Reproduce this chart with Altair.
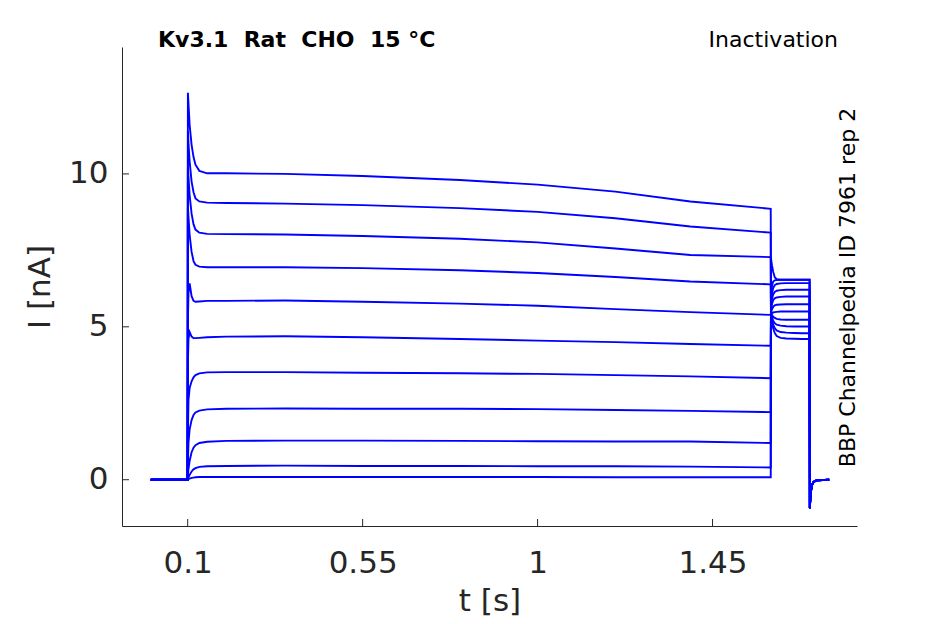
import altair as alt
import pandas as pd

# ---- data ----
TRACES = ["t01", "t02", "t03", "t04", "t05", "t06", "t07", "t08", "t09", "t10", "t11"]

# prepulse (holding + step at 0.1 s up to 1.6 s)
T_PRE = [0.005, 0.0997, 0.1005, 0.102, 0.105, 0.11, 0.115, 0.12, 0.13, 0.15,
         0.2, 0.35, 0.55, 0.8, 1.0, 1.2, 1.393, 1.5997]
PRE_01 = [0, 0, 12.65, 12.3, 11.6, 10.95, 10.55, 10.3, 10.1, 10.02, 10.02, 10.0, 9.93, 9.8, 9.65, 9.42, 9.1, 8.86]
PRE_02 = [0, 0, 11.4, 11.0, 10.4, 9.75, 9.4, 9.2, 9.1, 9.06, 9.05, 9.03, 8.98, 8.88, 8.76, 8.55, 8.28, 8.08]
PRE_03 = [0, 0, 10.2, 9.9, 9.3, 8.7, 8.35, 8.18, 8.08, 8.04, 8.03, 8.02, 7.97, 7.88, 7.76, 7.56, 7.35, 7.28]
PRE_04 = [0, 0, 8.9, 8.6, 8.0, 7.45, 7.15, 7.03, 6.97, 6.95, 6.95, 6.95, 6.92, 6.85, 6.76, 6.63, 6.48, 6.39]
PRE_05 = [0, 0, 5.2, 6.1, 6.42, 6.0, 5.85, 5.82, 5.83, 5.85, 5.85, 5.86, 5.82, 5.76, 5.69, 5.58, 5.48, 5.39]
PRE_06 = [0, 0, 3.8, 4.6, 4.83, 4.68, 4.63, 4.63, 4.64, 4.66, 4.68, 4.69, 4.66, 4.6, 4.55, 4.5, 4.44, 4.38]
PRE_07 = [0, 0, 1.5, 2.6, 3.0, 3.22, 3.35, 3.42, 3.48, 3.51, 3.52, 3.52, 3.5, 3.48, 3.46, 3.42, 3.38, 3.32]
PRE_08 = [0, 0, 0.6, 1.2, 1.65, 1.95, 2.12, 2.2, 2.26, 2.3, 2.32, 2.33, 2.32, 2.32, 2.31, 2.28, 2.25, 2.21]
PRE_09 = [0, 0, 0.15, 0.35, 0.62, 0.9, 1.05, 1.13, 1.2, 1.24, 1.27, 1.28, 1.28, 1.27, 1.26, 1.25, 1.25, 1.2]
PRE_10 = [0, 0, 0.03, 0.08, 0.16, 0.27, 0.34, 0.38, 0.42, 0.44, 0.45, 0.46, 0.45, 0.45, 0.44, 0.44, 0.43, 0.4]
PRE_11 = [0, 0, 0.0, 0.02, 0.04, 0.06, 0.07, 0.08, 0.09, 0.09, 0.09, 0.09, 0.09, 0.09, 0.09, 0.08, 0.08, 0.08]

# test pulse (1.6 s to 1.7 s)
T_TEST = [1.6003, 1.603, 1.606, 1.61, 1.615, 1.625, 1.64, 1.66, 1.68, 1.6997]
TEST_01 = [5.45, 5.15, 4.95, 4.80, 4.70, 4.64, 4.62, 4.61, 4.60, 4.60]
TEST_02 = [5.45, 5.22, 5.07, 4.96, 4.88, 4.83, 4.81, 4.80, 4.79, 4.79]
TEST_03 = [5.45, 5.30, 5.20, 5.12, 5.07, 5.04, 5.02, 5.01, 5.01, 5.01]
TEST_04 = [5.45, 5.38, 5.33, 5.29, 5.26, 5.24, 5.23, 5.23, 5.23, 5.23]
TEST_05 = [5.42, 5.45, 5.47, 5.48, 5.49, 5.50, 5.50, 5.50, 5.50, 5.50]
TEST_06 = [5.45, 5.58, 5.65, 5.70, 5.72, 5.73, 5.74, 5.74, 5.74, 5.74]
TEST_07 = [5.50, 5.75, 5.87, 5.93, 5.96, 5.98, 5.99, 5.99, 5.99, 5.99]
TEST_08 = [5.60, 5.92, 6.06, 6.14, 6.18, 6.20, 6.21, 6.21, 6.21, 6.21]
TEST_09 = [5.70, 6.10, 6.27, 6.36, 6.40, 6.42, 6.43, 6.43, 6.43, 6.43]
TEST_10 = [5.90, 6.35, 6.48, 6.52, 6.53, 6.54, 6.54, 6.54, 6.54, 6.54]
TEST_11 = [7.25, 7.00, 6.80, 6.62, 6.56, 6.54, 6.54, 6.54, 6.54, 6.54]

# tail after the test pulse
T_TAIL = [1.7003, 1.702, 1.705, 1.71, 1.717, 1.75]
TAIL = [-0.93, -0.5, -0.2, -0.07, -0.02, 0.0]

PRE = [PRE_01, PRE_02, PRE_03, PRE_04, PRE_05, PRE_06, PRE_07, PRE_08, PRE_09, PRE_10, PRE_11]
TEST = [TEST_01, TEST_02, TEST_03, TEST_04, TEST_05, TEST_06, TEST_07, TEST_08, TEST_09, TEST_10, TEST_11]

X_TICKS = [0.1, 0.55, 1, 1.45]
Y_TICKS = [0, 5, 10]
X_DOMAIN = [-0.069, 1.8216]
Y_DOMAIN = [-1.513, 14.15]

TITLE = "Kv3.1\u00a0\u00a0Rat\u00a0\u00a0CHO\u00a0\u00a015\u00a0°C"
PROTOCOL = "Inactivation"
SIDE = "BBP Channelpedia ID 7961 rep 2"

rows = []
for name, pre, test in zip(TRACES, PRE, TEST):
    for t, v in zip(T_PRE, pre):
        rows.append({"trace": name, "t": t, "i": v})
    for t, v in zip(T_TEST, test):
        rows.append({"trace": name, "t": t, "i": v})
    for t, v in zip(T_TAIL, TAIL):
        rows.append({"trace": name, "t": t, "i": v})
df = pd.DataFrame(rows)

FONT = "DejaVu Sans"
AX = "#262626"
W, H = 735, 479

xscale = alt.Scale(domain=X_DOMAIN, nice=False, zero=False)
yscale = alt.Scale(domain=Y_DOMAIN, nice=False, zero=False)

xaxis = alt.Axis(values=X_TICKS, format=".3~g", ticks=False, tickSize=0, grid=False,
                 domainColor=AX, domainWidth=1, labelFont=FONT, labelFontSize=31,
                 labelColor=AX, labelPadding=22, labelFlush=False,
                 titleFont=FONT, titleFontSize=31, titleFontWeight="normal",
                 titleColor=AX, titleBaseline="alphabetic", titleY=84)
yaxis = alt.Axis(values=Y_TICKS, format="d", ticks=False, tickSize=0, grid=False,
                 domainColor=AX, domainWidth=1, labelFont=FONT, labelFontSize=31,
                 labelColor=AX, labelPadding=14, labelFlush=False,
                 titleFont=FONT, titleFontSize=31, titleFontWeight="normal",
                 titleColor=AX, titleBaseline="alphabetic", titleAngle=270,
                 titleX=-73, titleY=H / 2)

lines = alt.Chart(df).mark_line(color="#0000ff", strokeWidth=1.9).encode(
    x=alt.X("t:Q", scale=xscale, title="t [s]", axis=xaxis),
    y=alt.Y("i:Q", scale=yscale, title="I [nA]", axis=yaxis),
    detail="trace:N",
)

xt = alt.Chart(pd.DataFrame({"v": X_TICKS})).mark_rule(color=AX, strokeWidth=1).encode(
    x=alt.X("v:Q", scale=xscale, title="t [s]", axis=xaxis),
    y=alt.value(H), y2=alt.value(H - 7),
)
yt = alt.Chart(pd.DataFrame({"v": Y_TICKS})).mark_rule(color=AX, strokeWidth=1).encode(
    y=alt.Y("v:Q", scale=yscale, title="I [nA]", axis=yaxis),
    x=alt.value(0), x2=alt.value(7),
)

one = alt.Data(values=[{}])
title_txt = alt.Chart(one).mark_text(font=FONT, fontSize=22, fontWeight="bold", align="left",
                                     baseline="alphabetic", color="#000000").encode(
    x=alt.value(36), y=alt.value(-0.5), text=alt.value(TITLE))
proto_txt = alt.Chart(one).mark_text(font=FONT, fontSize=22, align="right",
                                     baseline="alphabetic", color="#000000").encode(
    x=alt.value(716), y=alt.value(-0.5), text=alt.value(PROTOCOL))
side_txt = alt.Chart(one).mark_text(font=FONT, fontSize=22, align="center", angle=270,
                                    baseline="alphabetic", color="#000000").encode(
    x=alt.value(733), y=alt.value(240.5), text=alt.value(SIDE))

chart = alt.layer(lines, xt, yt, title_txt, proto_txt, side_txt).properties(
    width=W, height=H,
    autosize=alt.AutoSizeParams(type="none"),
    padding={"left": 114, "top": 39, "right": 80, "bottom": 90},
).configure_view(strokeWidth=0)

chart.save("out.html", embed_options={"renderer": "svg", "actions": False})
